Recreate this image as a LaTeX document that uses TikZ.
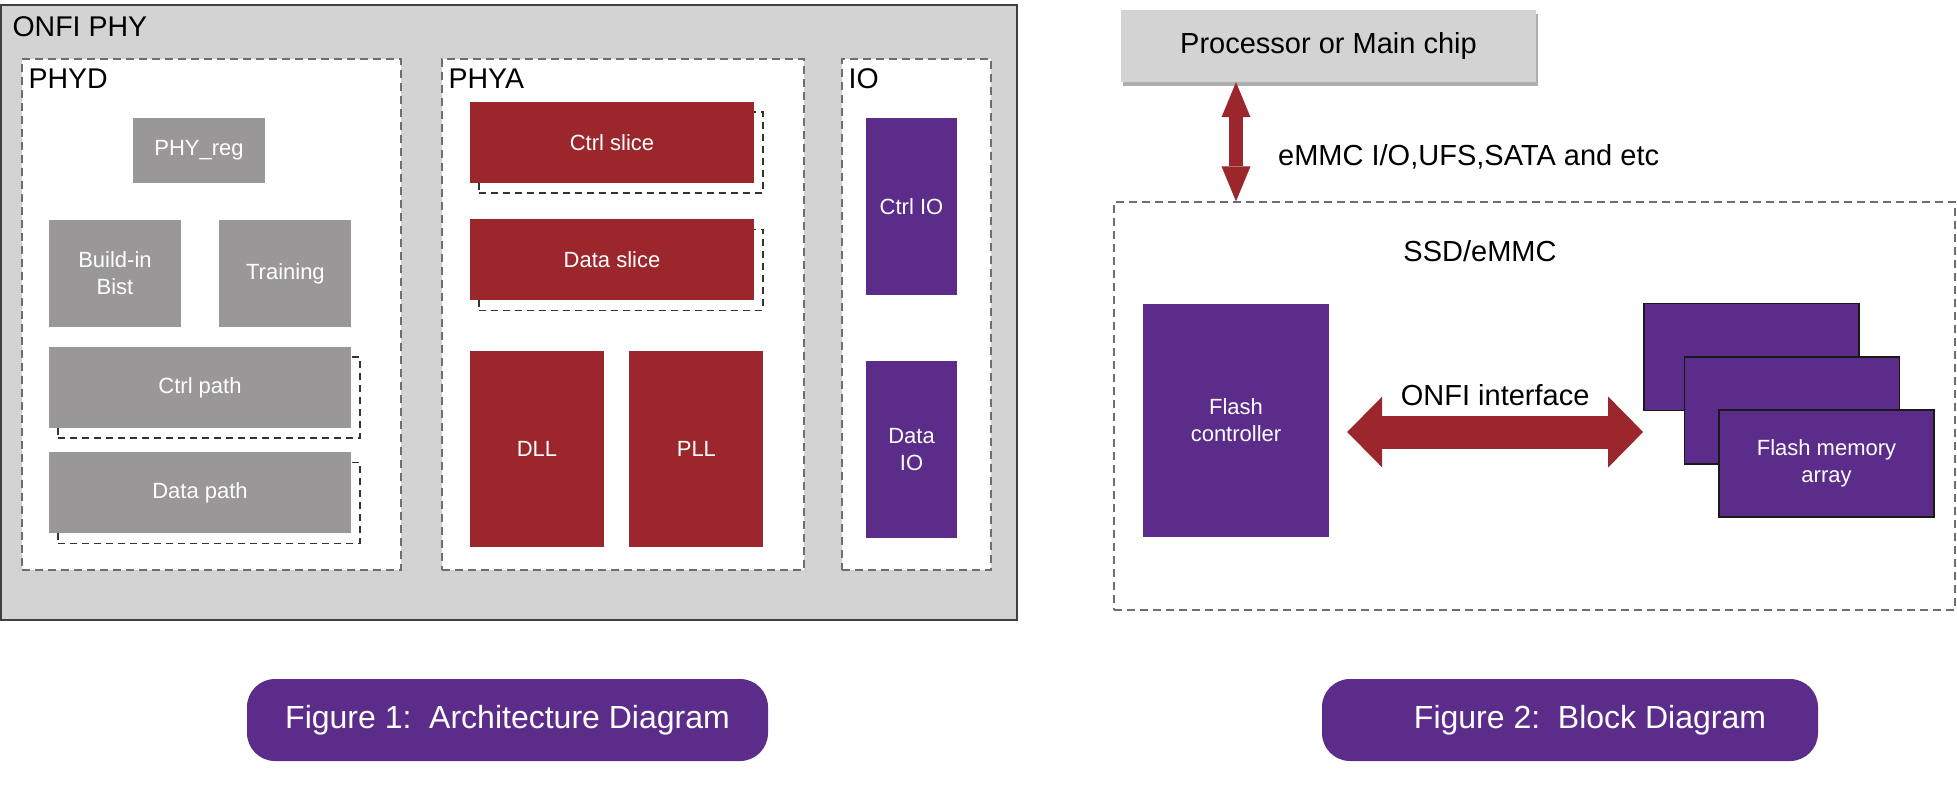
\documentclass[tikz,border=0pt]{standalone}
\usepackage{fontspec}
\setmainfont{Liberation Sans}
\usepackage{tikz}
\usetikzlibrary{positioning, arrows.meta, calc, shadows}

\definecolor{bggray}{HTML}{D4D3D3}
\definecolor{boxgray}{HTML}{999797}
\definecolor{phyred}{HTML}{9B272D}
\definecolor{phypurple}{HTML}{5B2C8A}
\definecolor{dashgray}{HTML}{6E6E6E}

\begin{document}
\begin{tikzpicture}[
    x=1pt, y=-1pt,
    outer/.style={draw=black!75, line width=1.3pt, fill=bggray, inner sep=0pt},
    grp/.style={draw=dashgray, line width=1.2pt, dash pattern=on 8pt off 5pt,
                fill=white, inner sep=0pt, minimum height=511pt},
    hdr/.style={anchor=base west, inner sep=0pt, font=\fontsize{28.5}{34}\selectfont},
    blk/.style={inner sep=0pt, align=center, text=white,
                font=\fontsize{22}{27}\selectfont},
    gbox/.style={blk, fill=boxgray},
    rbox/.style={blk, fill=phyred},
    pbox/.style={blk, fill=phypurple},
    slice/.style={preaction={draw=black!80, fill=none, line width=1.1pt,
                  dash pattern=on 7pt off 5pt,
                  transform canvas={shift={(9pt,-10pt)}}}},
    lbl/.style={inner sep=0pt, font=\fontsize{29}{34}\selectfont},
    procbox/.style={fill=bggray, inner sep=0pt, minimum width=415pt,
                    minimum height=72pt, font=\fontsize{29}{34}\selectfont,
                    drop shadow={shadow xshift=2pt, shadow yshift=-4pt,
                                 opacity=0.45, fill=black!70}},
    memb/.style={pbox, draw=black!90, line width=1.8pt,
                 minimum width=215pt, minimum height=107pt},
    bus/.style={draw=phyred, line width=14pt,
                arrows={Triangle[length=35pt,width=29pt,line width=0pt]-Triangle[length=35pt,width=29pt,line width=0pt]}},
    onfi/.style={draw=phyred, line width=33pt,
                 arrows={Triangle[length=35pt,width=71pt,line width=0pt]-Triangle[length=35pt,width=71pt,line width=0pt]}},
    capt/.style={fill=phypurple, text=white, rounded corners=28pt, inner sep=0pt,
                 minimum height=82pt, font=\fontsize{32}{38}\selectfont},
]
\path[use as bounding box, fill=white] (0,0) rectangle (1957,807);

% Figure 1: ONFI PHY
\node[outer, minimum width=1016pt, minimum height=615pt] (onfiphy) at (509,312.5) {};
\node[hdr] (onfiphylbl) at ([shift={(12pt,-32pt)}]onfiphy.north west) {ONFI PHY};

\node[grp, minimum width=379pt] (phyd) at (211.5,314.5) {};
\node[grp, minimum width=362pt] (phya) at (623,314.5) {};
\node[grp, minimum width=149pt] (io) at (916.5,314.5) {};
\foreach \g/\t in {phyd/PHYD, phya/PHYA, io/IO}
    \node[hdr] (\g lbl) at ([shift={(7pt,-30pt)}]\g.north west) {\t};

% PHYD
\node[gbox, minimum width=132pt, minimum height=65pt] (reg) at (199,150.5) {PHY\_reg};
\node[gbox, minimum width=132pt, minimum height=107pt] (bist) at (115,273.5) {Build-in\\Bist};
\node[gbox, minimum width=132pt, minimum height=107pt, right=38pt of bist] (train) {Training};
\node[gbox, slice, minimum width=302pt, minimum height=81pt] (cpath) at (200,387.5) {Ctrl path};
\node[gbox, slice, minimum width=302pt, minimum height=81pt, below=24pt of cpath] (dpath) {Data path};

% PHYA
\node[rbox, slice, minimum width=284pt, minimum height=81pt] (cslice) at (612,142.5) {Ctrl slice};
\node[rbox, slice, minimum width=284pt, minimum height=81pt, below=36pt of cslice] (dslice) {Data slice};
\node[rbox, minimum width=134pt, minimum height=196pt] (dll) at (537,449) {DLL};
\node[rbox, minimum width=134pt, minimum height=196pt, right=25pt of dll] (pll) {PLL};

% IO
\node[pbox, minimum width=91pt, minimum height=177pt] (cio) at (911.5,206.5) {Ctrl IO};
\node[pbox, minimum width=91pt, minimum height=177pt, below=66pt of cio] (dio) {Data\\IO};

% Figure 2: block diagram
\node[draw=dashgray, line width=1.2pt, dash pattern=on 8pt off 5pt,
      minimum width=841pt, minimum height=408pt] (ssd) at (1534.5,406) {};
\node[lbl, anchor=base] (ssdlbl) at (1480,261) {SSD/eMMC};
\node[procbox] (proc) at (1328.5,46) {Processor or Main chip};
\node[pbox, minimum width=186pt, minimum height=233pt] (fc) at (1236,420.5) {Flash\\controller};

\node[memb] (mem1) at (1751.5,357) {};
\node[memb] (mem2) at ($(mem1)+(40.5,53.5)$) {};
\node[memb] (mem3) at ($(mem2)+(34.5,53)$) {Flash memory\\array};

\draw[bus] (proc.south -| fc.north) -- (ssd.north -| fc.north);
\node[lbl, anchor=base west] (buslbl) at (1278,165) {eMMC I/O,UFS,SATA and etc};

\coordinate (onfiL) at ([shift={(18pt,-11.5pt)}]fc.east);
\coordinate (onfiR) at (onfiL -| mem1.west);
\draw[onfi] (onfiL) -- node[lbl, anchor=base, yshift=27pt] (onfilbl) {ONFI interface} (onfiR);

% captions
\node[capt, minimum width=521pt] (fig1) at (507.5,720) {Figure 1:\ \ Architecture Diagram};
\node[capt, minimum width=496pt] (fig2) at (1570,720) {\hspace*{40pt}Figure 2:\ \ Block Diagram};
\end{tikzpicture}
\end{document}
